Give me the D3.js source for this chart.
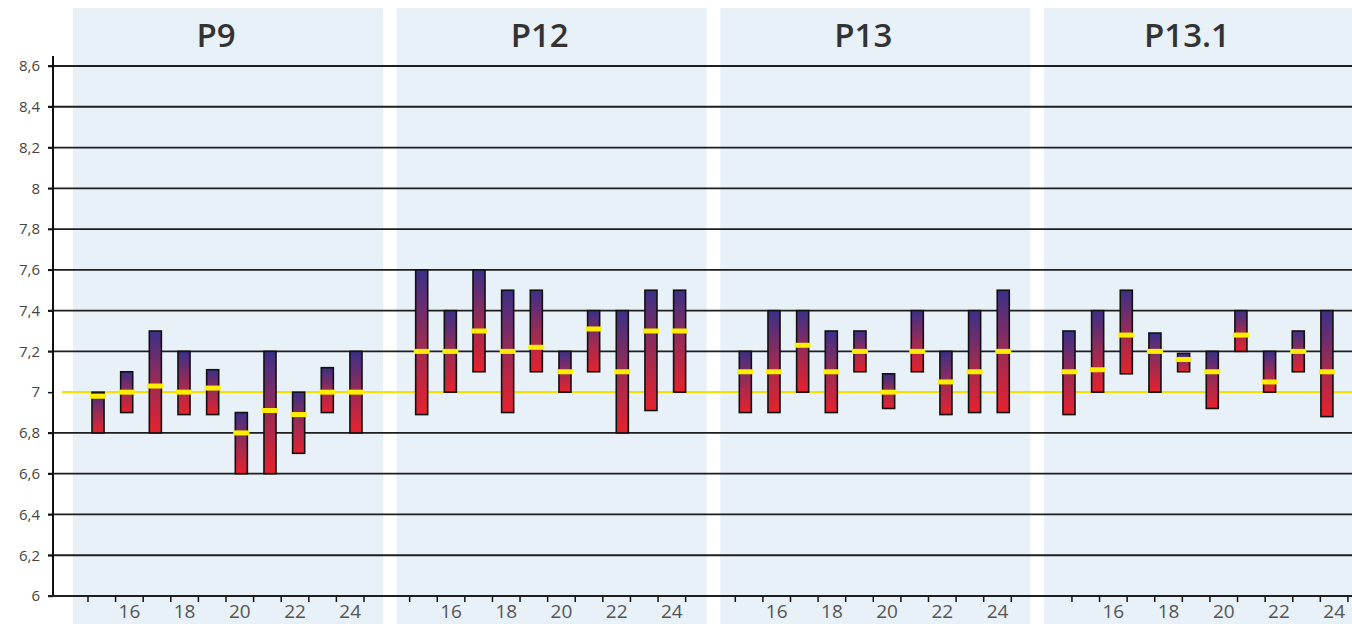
<!DOCTYPE html>
<html>
<head>
<meta charset="utf-8">
<script src="https://cdn.jsdelivr.net/npm/d3@7"></script>
<style>
    body { margin: 0; background: #fff; }
    text { font-family: "Open Sans", "DejaVu Sans", sans-serif; }
</style>
</head>
<body>
<div id="chart"></div>
<script>
// panels and categories
const panels = ["P9", "P12", "P13", "P13.1"];
const years = [15, 16, 17, 18, 19, 20, 21, 22, 23, 24];
const xLabels = [16, 18, 20, 22, 24];
const yTicks = [6, 6.2, 6.4, 6.6, 6.8, 7, 7.2, 7.4, 7.6, 7.8, 8, 8.2, 8.4, 8.6];
const refValue = 7;

// min / max / mean per panel
const p9Low = [6.8, 6.9, 6.8, 6.89, 6.89, 6.6, 6.6, 6.7, 6.9, 6.8];
const p9High = [7.0, 7.1, 7.3, 7.2, 7.11, 6.9, 7.2, 7.0, 7.12, 7.2];
const p9Mean = [6.98, 7.0, 7.03, 7.0, 7.02, 6.8, 6.91, 6.89, 7.0, 7.0];

const p12Low = [6.89, 7.0, 7.1, 6.9, 7.1, 7.0, 7.1, 6.8, 6.91, 7.0];
const p12High = [7.6, 7.4, 7.6, 7.5, 7.5, 7.2, 7.4, 7.4, 7.5, 7.5];
const p12Mean = [7.2, 7.2, 7.3, 7.2, 7.22, 7.1, 7.31, 7.1, 7.3, 7.3];

const p13Low = [6.9, 6.9, 7.0, 6.9, 7.1, 6.92, 7.1, 6.89, 6.9, 6.9];
const p13High = [7.2, 7.4, 7.4, 7.3, 7.3, 7.09, 7.4, 7.2, 7.4, 7.5];
const p13Mean = [7.1, 7.1, 7.23, 7.1, 7.2, 7.0, 7.2, 7.05, 7.1, 7.2];

const p131Low = [6.89, 7.0, 7.09, 7.0, 7.1, 6.92, 7.2, 7.0, 7.1, 6.88];
const p131High = [7.3, 7.4, 7.5, 7.29, 7.19, 7.2, 7.4, 7.2, 7.3, 7.4];
const p131Mean = [7.1, 7.11, 7.28, 7.2, 7.16, 7.1, 7.28, 7.05, 7.2, 7.1];

const lows = [p9Low, p12Low, p13Low, p131Low];
const highs = [p9High, p12High, p13High, p131High];
const means = [p9Mean, p12Mean, p13Mean, p131Mean];

const width = 1352, height = 624;
const axisShift = [0, -2, 0, 13];

const svg = d3.select("#chart").append("svg")
    .attr("width", width)
    .attr("height", height);

// gradient for the bars
const grad = svg.append("defs").append("linearGradient")
    .attr("id", "barGrad")
    .attr("x1", 0).attr("y1", 0).attr("x2", 0).attr("y2", 1);
grad.append("stop").attr("offset", "0%").attr("stop-color", "#3a3088");
grad.append("stop").attr("offset", "50%").attr("stop-color", "#9a2b55");
grad.append("stop").attr("offset", "100%").attr("stop-color", "#e6222d");

const y = d3.scaleLinear()
    .domain([6, 8.6])
    .range([596, 66]);

const xPanel = d3.scaleBand()
    .domain(panels)
    .range([73, 1354])
    .paddingInner(0.042);

const pw = xPanel.bandwidth();

const xBar = d3.scaleBand()
    .domain(years)
    .range([10.7, 297.3])
    .paddingInner(0.58)
    .paddingOuter(0.29);

const xTick = d3.scaleBand()
    .domain(years)
    .range([15, 291]);

// panel backgrounds
svg.selectAll(".panel-bg")
    .data(panels)
    .enter()
    .append("rect")
    .attr("class", "panel-bg")
    .attr("x", d => xPanel(d))
    .attr("y", 8)
    .attr("width", pw)
    .attr("height", height - 8)
    .attr("fill", "#e8f0f8");

// titles
svg.selectAll(".title")
    .data(panels)
    .enter()
    .append("text")
    .attr("class", "title")
    .attr("x", d => xPanel(d) + pw / 2 - 12)
    .attr("y", 47)
    .attr("text-anchor", "middle")
    .style("font-size", "33px")
    .style("font-weight", "600")
    .attr("fill", "#333")
    .text(d => d);

// grid lines
svg.selectAll(".grid")
    .data(yTicks.filter(d => d !== refValue && d !== 6))
    .enter()
    .append("line")
    .attr("class", "grid")
    .attr("x1", 48)
    .attr("x2", width)
    .attr("y1", d => y(d))
    .attr("y2", d => y(d))
    .attr("stroke", "#1e1e1e")
    .attr("stroke-width", 1.8);

// reference line at 7
svg.append("line")
    .attr("x1", 62)
    .attr("x2", width)
    .attr("y1", y(refValue))
    .attr("y2", y(refValue))
    .attr("stroke", "#f2e200")
    .attr("stroke-width", 2.2);

// y axis
const yAxis = d3.axisLeft(y)
    .tickValues(yTicks)
    .tickSize(5)
    .tickPadding(8)
    .tickFormat(d => String(d).replace(".", ","));

const yG = svg.append("g")
    .attr("class", "y-axis")
    .attr("transform", "translate(53,0)")
    .call(yAxis);
yG.select(".domain").remove();
yG.selectAll(".tick line").attr("stroke", "#111").attr("stroke-width", 1.5);
yG.selectAll(".tick text")
    .style("font-size", "15px")
    .attr("fill", "#444");

svg.append("line")
    .attr("x1", 53).attr("x2", 53)
    .attr("y1", 56).attr("y2", 597)
    .attr("stroke", "#111")
    .attr("stroke-width", 2);

// x baseline
svg.append("line")
    .attr("x1", 48).attr("x2", width)
    .attr("y1", y(6)).attr("y2", y(6))
    .attr("stroke", "#1e1e1e")
    .attr("stroke-width", 2);

// each panel
panels.forEach((p, i) => {
    const g = svg.append("g")
        .attr("class", "panel")
        .attr("transform", "translate(" + xPanel(p) + ",0)");

    const rows = years.map((yr, j) => ({
        year: yr,
        low: lows[i][j],
        high: highs[i][j],
        mean: means[i][j]
    }));

    // x axis labels and ticks
    const tg = g.append("g")
        .attr("transform", "translate(" + axisShift[i] + "," + y(6) + ")");

    const xAxis = d3.axisBottom(xTick)
        .tickValues(xLabels)
        .tickSize(0)
        .tickPadding(9);
    tg.call(xAxis);
    tg.select(".domain").remove();
    tg.selectAll(".tick text")
        .style("font-size", "19px")
        .attr("fill", "#555");

    const bounds = years.map(d => xTick(d)).concat([xTick.range()[1]]);
    tg.selectAll(".xtick")
        .data(bounds)
        .enter()
        .append("line")
        .attr("class", "xtick")
        .attr("x1", d => d).attr("x2", d => d)
        .attr("y1", 0).attr("y2", 6)
        .attr("stroke", "#111")
        .attr("stroke-width", 1.5);

    // range bars
    g.selectAll(".bar")
        .data(rows)
        .enter()
        .append("rect")
        .attr("class", "bar")
        .attr("x", d => xBar(d.year))
        .attr("y", d => y(d.high))
        .attr("width", xBar.bandwidth())
        .attr("height", d => y(d.low) - y(d.high))
        .attr("fill", "url(#barGrad)")
        .attr("stroke", "#111")
        .attr("stroke-width", 1.6);

    // mean markers
    g.selectAll(".mean")
        .data(rows)
        .enter()
        .append("rect")
        .attr("class", "mean")
        .attr("x", d => xBar(d.year) - 2)
        .attr("y", d => y(d.mean) - 2.5)
        .attr("width", xBar.bandwidth() + 4)
        .attr("height", 5)
        .attr("fill", "#ffee00");
});
</script>
</body>
</html>
